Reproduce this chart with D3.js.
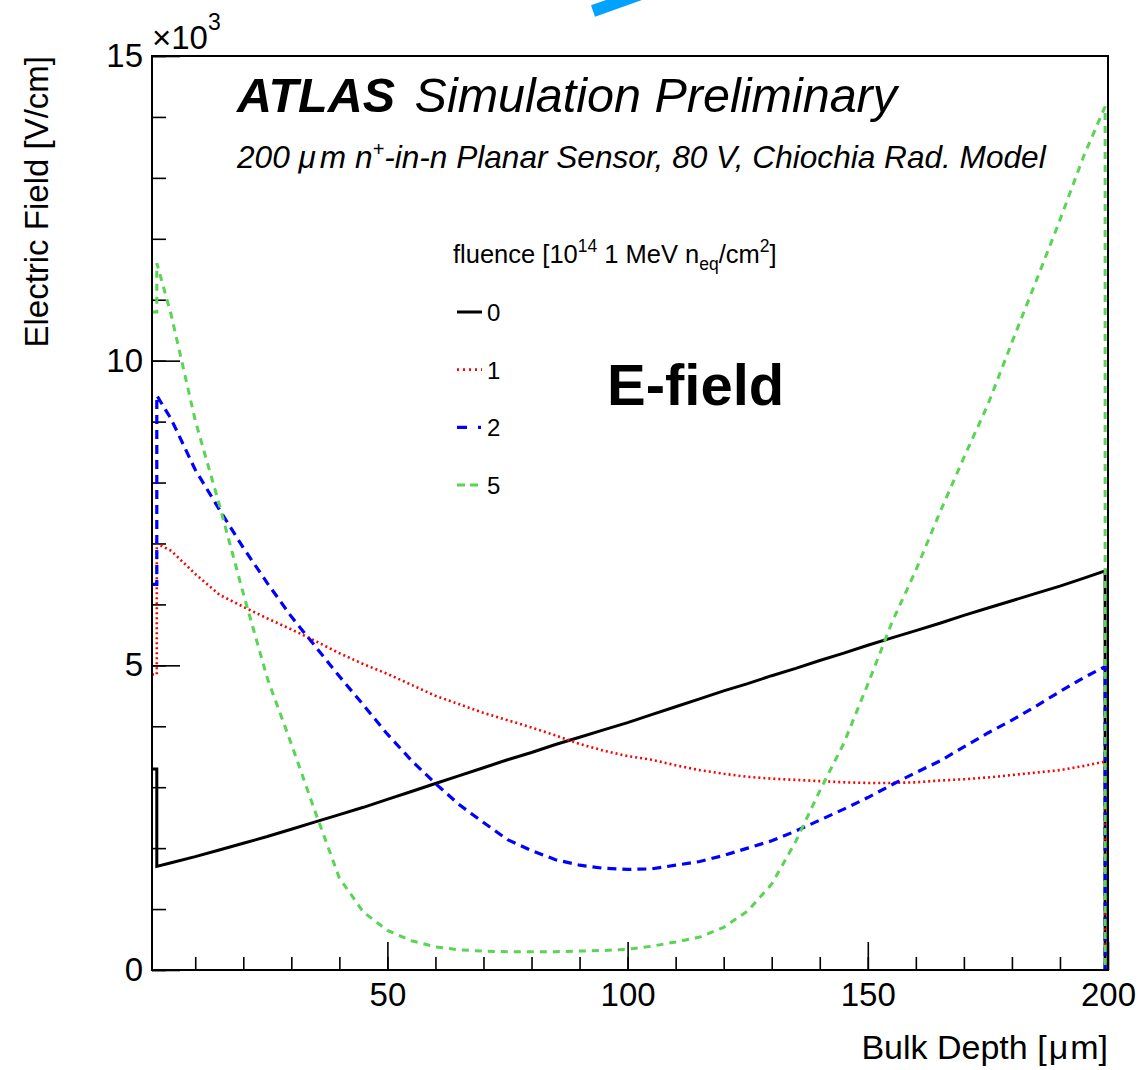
<!DOCTYPE html>
<html>
<head>
<meta charset="utf-8">
<script src="https://cdn.jsdelivr.net/npm/d3@7"></script>
<style>
  body { margin: 0; background: #fff; }
  text { font-family: "Liberation Sans", Arial, Helvetica, sans-serif; fill: #000; }
</style>
</head>
<body>
<svg id="chart" width="1139" height="1070"></svg>
<script>
// bulk depth [um]; repeated entries mark the histogram's vertical steps
const depth = [1, 2, 2, 5, 10, 15, 20, 25, 30, 35, 40, 45, 50, 55, 60, 65, 70, 75, 80, 85, 90, 95, 100,
    105, 110, 115, 120, 125, 130, 135, 140, 145, 150, 155, 160, 165, 170, 175, 180, 185, 190, 195, 199.4, 199.4];

// electric field [10^3 V/cm] per fluence
const field0 = [3.30, 3.30, 1.70, 1.76, 1.86, 1.97, 2.08, 2.19, 2.31, 2.43, 2.55, 2.67, 2.80, 2.93, 3.06, 3.19, 3.32, 3.45, 3.57, 3.70, 3.82, 3.94, 4.06,
    4.19, 4.32, 4.45, 4.58, 4.70, 4.83, 4.95, 5.08, 5.20, 5.33, 5.45, 5.57, 5.69, 5.82, 5.94, 6.06, 6.18, 6.30, 6.43, 6.55, 0];
const field1 = [4.85, 4.85, 7.00, 6.88, 6.50, 6.16, 5.96, 5.77, 5.59, 5.40, 5.20, 5.02, 4.86, 4.68, 4.50, 4.36, 4.22, 4.10, 3.98, 3.85, 3.71, 3.60, 3.51,
    3.45, 3.36, 3.28, 3.22, 3.17, 3.14, 3.12, 3.10, 3.08, 3.07, 3.07, 3.08, 3.11, 3.13, 3.16, 3.20, 3.24, 3.28, 3.35, 3.42, 0];
const field2 = [6.33, 6.33, 9.43, 9.04, 8.21, 7.56, 6.93, 6.35, 5.80, 5.31, 4.82, 4.35, 3.87, 3.44, 3.06, 2.71, 2.42, 2.14, 1.96, 1.81, 1.72, 1.67, 1.65,
    1.66, 1.72, 1.78, 1.88, 2.00, 2.12, 2.28, 2.46, 2.64, 2.83, 3.04, 3.24, 3.43, 3.66, 3.89, 4.10, 4.33, 4.57, 4.80, 4.98, 0];
const field5 = [10.8, 10.8, 11.6, 10.75, 9.02, 7.64, 6.18, 4.79, 3.71, 2.59, 1.51, 0.95, 0.65, 0.48, 0.38, 0.33, 0.31, 0.30, 0.30, 0.30, 0.31, 0.32, 0.34,
    0.39, 0.46, 0.54, 0.70, 0.97, 1.41, 2.11, 2.94, 3.72, 4.69, 5.70, 6.56, 7.51, 8.41, 9.28, 10.30, 11.30, 12.31, 13.37, 14.17, 0];

const fluences = ['0', '1', '2', '5'];
const xMajor = [50, 100, 150, 200];
const yMajor = [0, 5, 10, 15];

const series = [
    { label: fluences[0], values: field0, color: '#000000', width: 3, dash: null, legDash: null },
    { label: fluences[1], values: field1, color: '#ff0000', width: 2.6, dash: '2 3', legDash: '2 4' },
    { label: fluences[2], values: field2, color: '#0000ff', width: 3.2, dash: '9 6', legDash: '10 11 3 11' },
    { label: fluences[3], values: field5, color: '#59d454', width: 3, dash: '7 6', legDash: '8 5' }
];

const svg = d3.select('#chart');
const pLeft = 152, pRight = 1108, pTop = 56, pBottom = 970;

const x = d3.scaleLinear().domain([1, 200]).range([pLeft, pRight]);
const y = d3.scaleLinear().domain([0, 15]).range([pBottom, pTop]);

// small blue stroke at the top edge
svg.append('line')
    .attr('x1', 593).attr('y1', 11).attr('x2', 655).attr('y2', -11)
    .attr('stroke', '#00a2ff').attr('stroke-width', 12);

// minor ticks
svg.append('g')
    .attr('transform', `translate(${pLeft},0)`)
    .call(d3.axisLeft(y).tickValues(d3.range(0, 16)).tickSizeInner(-14).tickSizeOuter(0).tickFormat(''))
    .call(g => g.select('.domain').remove());
svg.append('g')
    .attr('transform', `translate(0,${pBottom})`)
    .call(d3.axisBottom(x).tickValues(d3.range(10, 200, 10)).tickSizeInner(-13).tickSizeOuter(0).tickFormat(''))
    .call(g => g.select('.domain').remove());

// major ticks + labels
svg.append('g')
    .attr('transform', `translate(${pLeft},0)`)
    .call(d3.axisLeft(y).tickValues(yMajor).tickSizeInner(-28).tickSizeOuter(0).tickPadding(9).tickFormat(d3.format('d')))
    .call(g => g.select('.domain').remove())
    .call(g => g.selectAll('text').attr('font-size', 33));
svg.append('g')
    .attr('transform', `translate(0,${pBottom})`)
    .call(d3.axisBottom(x).tickValues(xMajor).tickSizeInner(-28).tickSizeOuter(0).tickPadding(13).tickFormat(d3.format('d')))
    .call(g => g.select('.domain').remove())
    .call(g => g.selectAll('text').attr('font-size', 33));

svg.selectAll('.tick line').attr('stroke', '#000').attr('stroke-width', 1.6);
svg.selectAll('g').attr('font-family', null).attr('font-size', null);

// curves
const line = d3.line()
    .x((d, i) => x(depth[i]))
    .y(d => y(d));

series.forEach(s => {
    svg.append('path')
        .datum(s.values)
        .attr('d', line)
        .attr('fill', 'none')
        .attr('stroke', s.color)
        .attr('stroke-width', s.width)
        .attr('stroke-dasharray', s.dash)
        .attr('stroke-linejoin', 'miter');
});

// frame
svg.append('rect')
    .attr('x', pLeft).attr('y', pTop)
    .attr('width', pRight - pLeft).attr('height', pBottom - pTop)
    .attr('fill', 'none').attr('stroke', '#000').attr('stroke-width', 2);

// axis titles
const xt = svg.append('text')
    .attr('x', pRight).attr('y', 1059)
    .attr('text-anchor', 'end').attr('font-size', 34);
xt.append('tspan').text('Bulk Depth [');
xt.append('tspan').attr('dx', 2).text('μ');
xt.append('tspan').attr('dx', 2).text('m]');
svg.append('text')
    .attr('transform', 'translate(48,56) rotate(-90)')
    .attr('text-anchor', 'end').attr('font-size', 33)
    .text('Electric Field [V/cm]');

const mult = svg.append('text').attr('x', pLeft).attr('y', 49).attr('font-size', 33);
mult.append('tspan').text('×10');
mult.append('tspan').attr('dy', -19).attr('font-size', 23).text('3');

// header
const head = svg.append('text').attr('x', 237).attr('y', 112).attr('font-size', 48.5).attr('font-style', 'italic');
head.append('tspan').attr('font-weight', 'bold').text('ATLAS');
head.append('tspan').attr('dx', 6).text(' Simulation Preliminary');

const sub = svg.append('text').attr('x', 237).attr('y', 168).attr('font-size', 31.6).attr('font-style', 'italic');
sub.append('tspan').text('200 ');
sub.append('tspan').text('μ');
sub.append('tspan').attr('dx', 4).text('m n');
sub.append('tspan').attr('dy', -12).attr('font-size', 20).text('+');
sub.append('tspan').attr('dy', 12).text('-in-n Planar Sensor, 80 V, Chiochia Rad. Model');

// legend
const lg = svg.append('text').attr('x', 453).attr('y', 263).attr('font-size', 25.5);
lg.append('tspan').text('fluence [10');
lg.append('tspan').attr('dy', -11).attr('font-size', 17.5).text('14');
lg.append('tspan').attr('dy', 11).text(' 1 MeV n');
lg.append('tspan').attr('dy', 7).attr('font-size', 17.5).text('eq');
lg.append('tspan').attr('dy', -7).text('/cm');
lg.append('tspan').attr('dy', -11).attr('font-size', 17.5).text('2');
lg.append('tspan').attr('dy', 11).text(']');

const rowY = d3.scalePoint().domain(fluences).range([312, 485]);
const entry = svg.append('g').selectAll('g')
    .data(series)
    .join('g')
    .attr('transform', d => `translate(0,${rowY(d.label)})`);
entry.append('line')
    .attr('x1', 457).attr('x2', 482)
    .attr('stroke', d => d.color)
    .attr('stroke-width', d => d.width)
    .attr('stroke-dasharray', d => d.legDash);
entry.append('text')
    .attr('x', 487).attr('y', 9)
    .attr('font-size', 24)
    .text(d => d.label);

svg.append('text')
    .attr('x', 607).attr('y', 405)
    .attr('font-size', 58).attr('font-weight', 'bold')
    .text('E-field');
</script>
</body>
</html>
